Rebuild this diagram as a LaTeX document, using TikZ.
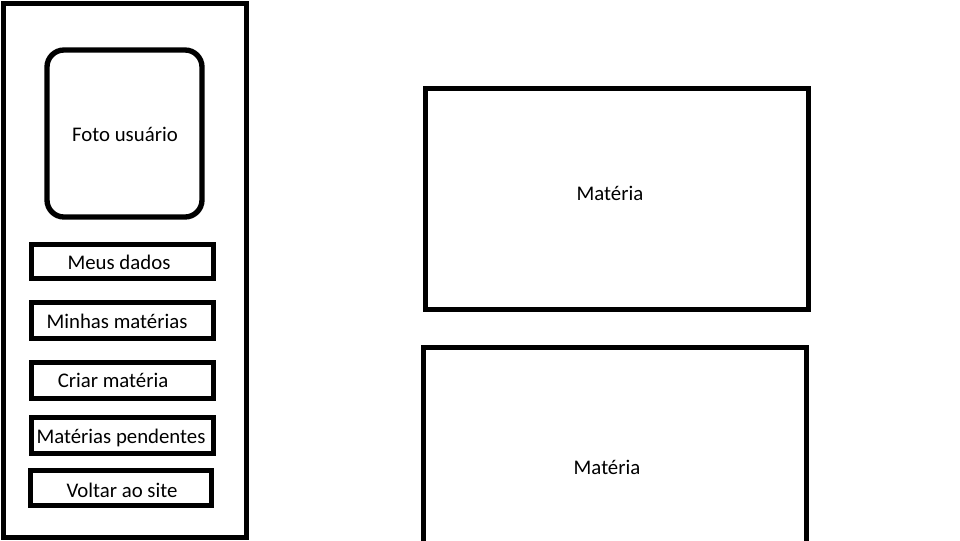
\documentclass[tikz,border=0pt]{standalone}
\usepackage{fontspec}
\setmainfont{Carlito}
\begin{document}
\begin{tikzpicture}[x=0.75pt,y=-0.75pt,line width=3.75pt,
  box/.style={draw=black,rectangle,inner sep=0pt},
  menubox/.style={box,minimum width=136.5pt,minimum height=27pt},
  lbl/.style={font=\fontsize{15.6}{18}\selectfont,inner sep=0pt,text=black}]
\useasboundingbox (0,0) rectangle (960,540);
\clip (0,0) rectangle (960,540);
\fill[white] (0,0) rectangle (960,540);
% side panel
\node (panel) [box,minimum width=182.25pt,minimum height=400.5pt] at (124.5,270) {};
\node (foto) [box,rounded corners=12.75pt,line width=4pt,minimum width=116.25pt,minimum height=125.25pt] at (124.5,133.5) {};
\node (fotot) [lbl] at (125,134) {Foto usuário};
% menu
\node (dados) [menubox,minimum height=25.5pt] at (122.5,261) {};
\node (dadost) [lbl] at (119,262) {Meus dados};
\node (minhas) [menubox] at (122.5,320.5) {};
\node (minhast) [lbl] at (117,321) {Minhas matérias};
\node (criar) [menubox] at (122.5,380.5) {};
\node (criart) [lbl] at (113,380) {Criar matéria};
\node (pend) [menubox] at (122.5,435.5) {};
\node (pendt) [lbl] at (121,438) {Matérias pendentes};
\node (voltar) [menubox,minimum width=136.1pt,minimum height=26.6pt] at (121.25,488.25) {};
\node (voltart) [lbl] at (122,490) {Voltar ao site};
% content
\node (mat1) [box,minimum width=287.25pt,minimum height=165.75pt] at (617,199) {};
\node (mat1t) [lbl] at (610,193) {Matéria};
\node (mat2) [box,minimum width=286.9pt,minimum height=165.75pt] at (615.25,458) {};
\node (mat2t) [lbl] at (607,467) {Matéria};
\end{tikzpicture}
\end{document}
